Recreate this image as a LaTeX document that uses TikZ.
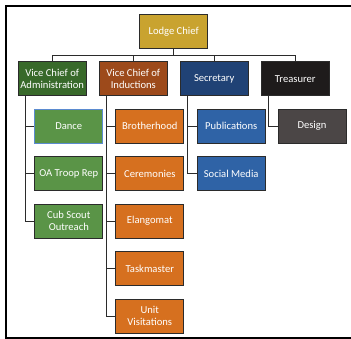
\documentclass[tikz,border=0pt]{standalone}
\usepackage{fontspec}
\setmainfont{Carlito}
\usepackage{tikz}

\definecolor{chiefgold}{HTML}{C9A32F}
\definecolor{admingreen}{HTML}{38692A}
\definecolor{inductbrown}{HTML}{9D4A1B}
\definecolor{secnavy}{HTML}{204275}
\definecolor{treblack}{HTML}{1E1B1B}
\definecolor{leafgreen}{HTML}{5A9447}
\definecolor{leaforange}{HTML}{D6701F}
\definecolor{leafblue}{HTML}{2F63A6}
\definecolor{leafgrey}{HTML}{4B4646}
\definecolor{linegrey}{HTML}{2B2B2B}
\definecolor{selblue}{HTML}{5B8BD0}

\tikzset{
  post/.style={draw=linegrey, line width=0.9pt, text=white, minimum width=68pt,
    minimum height=34pt, inner sep=0pt, align=center, font=\fontsize{10.6}{12.2}\selectfont},
  wire/.style={draw=linegrey, line width=0.9pt}
}

\begin{document}
\begin{tikzpicture}[x=1pt, y=-1pt]
\newcommand{\rowa}{126.2}
\newcommand{\rowb}{173.6}
\newcommand{\rowc}{221}
\newcommand{\rowd}{268.5}
\newcommand{\rowe}{316}
\newcommand{\tap}{7.4pt}

\useasboundingbox (0,0) rectangle (351,339);
\draw[line width=1.4pt] (360,6) -- (6,6) -- (6,338) -- (360,338);

% top
\node[post, fill=chiefgold] (chief) at (173.7,31.5) {Lodge Chief};

% officers
\node[post, fill=admingreen] (admin) at (52.2,78.8) {Vice Chief of\\Administration};
\node[post, fill=inductbrown] (induct) at (133.3,78.8) {Vice Chief of\\Inductions};
\node[post, fill=secnavy] (sec) at (214.3,78.8) {Secretary};
\node[post, fill=treblack] (tre) at (295.3,78.8) {Treasurer};

% committees
\node[post, fill=leafgreen, draw=selblue] (dance) at (68.8,\rowa) {Dance};
\node[post, fill=leafgreen] (troop) at (68.8,\rowb) {OA Troop Rep};
\node[post, fill=leafgreen] (cub) at (68.8,\rowc) {Cub Scout\\Outreach};

\node[post, fill=leaforange] (brother) at (149.8,\rowa) {Brotherhood};
\node[post, fill=leaforange] (cere) at (149.8,\rowb) {Ceremonies};
\node[post, fill=leaforange] (elang) at (149.8,\rowc) {Elangomat};
\node[post, fill=leaforange] (task) at (149.8,\rowd) {Taskmaster};
\node[post, fill=leaforange] (unit) at (149.8,\rowe) {Unit\\Visitations};

\node[post, fill=leafblue] (pub) at (231.2,\rowa) {Publications};
\node[post, fill=leafblue] (social) at (231.2,\rowb) {Social Media};

\node[post, fill=leafgrey] (design) at (312,\rowa) {Design};

% bus under the chief
\coordinate (bus) at (173.7,55);
\foreach \n in {admin,induct,sec,tre}
  \draw[wire] (chief.south) -- (bus) -| (\n.north);

% branches
\foreach \n in {dance,troop,cub}
  \draw[wire] ([xshift=\tap]admin.south west) |- (\n.west);
\foreach \n in {brother,cere,elang,task,unit}
  \draw[wire] ([xshift=\tap]induct.south west) |- (\n.west);
\foreach \n in {pub,social}
  \draw[wire] ([xshift=\tap]sec.south west) |- (\n.west);
\draw[wire] ([xshift=\tap]tre.south west) |- (design.west);
\end{tikzpicture}
\end{document}
